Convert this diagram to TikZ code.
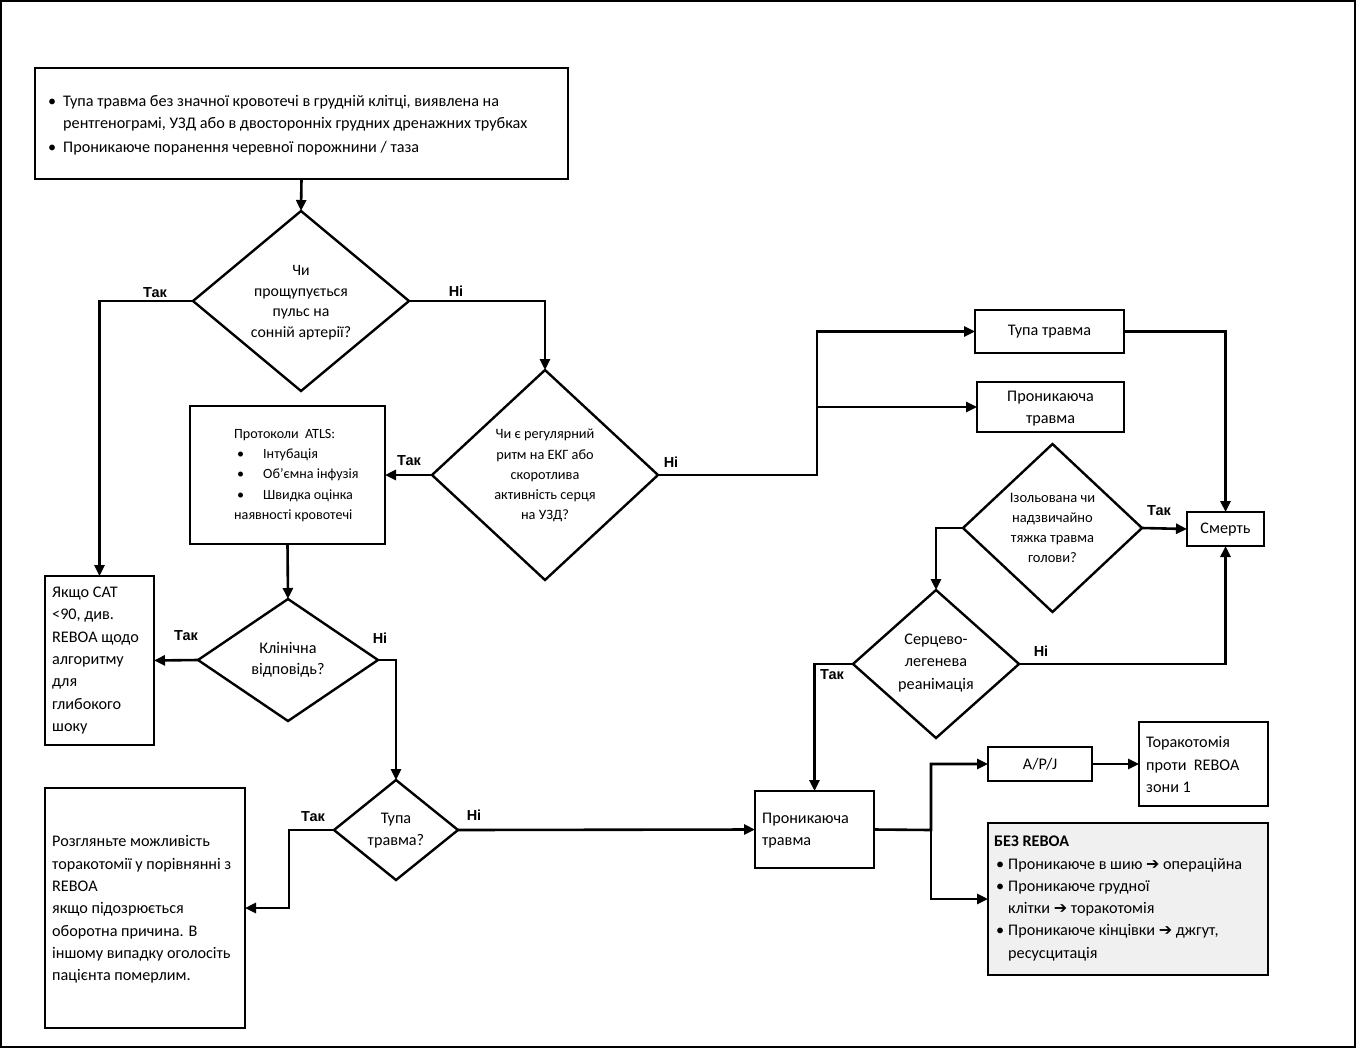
\documentclass[tikz,border=0pt]{standalone}
\usepackage{fontspec}
\setmainfont{Carlito}
\newfontfamily\labfont{Liberation Sans}
\newfontfamily\arrfont{DejaVu Sans}
\usetikzlibrary{shapes.geometric,arrows.meta}
\newcommand{\bigtxt}{\fontsize{16.2}{22.3}\selectfont}
\newcommand{\smtxt}{\fontsize{14.1}{20.2}\selectfont}
\newcommand{\ra}{{\arrfont\fontsize{16}{16}\selectfont ➔}}
\tikzset{
  conn/.style={line width=2.6pt},
  arr/.style={conn,-{Triangle[length=11pt,width=10pt]}},
  box/.style={draw,line width=2.6pt,inner sep=0pt,outer sep=0pt},
  dia/.style={draw,diamond,line width=2.4pt,inner sep=0pt,outer sep=0pt},
  txt/.style={inner sep=0pt,align=left,font=\bigtxt},
  ctxt/.style={inner sep=0pt,align=center,font=\bigtxt},
  lbl/.style={inner sep=0pt,font=\labfont\bfseries\fontsize{14.5}{16}\selectfont},
}
\begin{document}
\begin{tikzpicture}[x=1pt,y=-1pt]
\useasboundingbox (0,0) rectangle (1356,1049);
\draw[line width=1.2pt] (1,1) rectangle (1355,1047);

% boxes
\node[box,minimum width=533pt,minimum height=111pt] (top) at (301.5,123.5) {};
\node[txt,anchor=west] (toptxt) at (48,125) {\makebox[15pt][l]{•}Тупа травма без значної кровотечі в грудній клітці, виявлена на\\
\hspace*{15pt}рентгенограмі, УЗД або в двосторонніх грудних дренажних трубках\\[1pt]
\makebox[15pt][l]{•}Проникаюче поранення черевної порожнини / таза};

\node[box,minimum width=195pt,minimum height=138pt] (atls) at (287.5,475) {};
\node[txt,anchor=west,font=\smtxt] (atlstxt) at (234,475.5) {Протоколи\ \ ATLS:\\
\hspace*{3pt}\makebox[26pt][l]{•}Інтубація\\
\hspace*{3pt}\makebox[26pt][l]{•}Об’ємна інфузія\\
\hspace*{3pt}\makebox[26pt][l]{•}Швидка оцінка\\
наявності кровотечі};

\node[box,minimum width=109pt,minimum height=169pt] (yak) at (99.5,660.5) {};
\node[txt,anchor=west] (yaktxt) at (52,660.5) {Якщо САТ\\ <90, див.\\ REBOA щодо\\ алгоритму\\ для\\ глибокого\\ шоку};

\node[box,minimum width=200pt,minimum height=240pt] (rozg) at (145,908) {};
\node[txt,anchor=west] (rozgtxt) at (52,909.5) {Розгляньте можливість\\ торакотомії у порівнянні з\\ REBOA\\ якщо підозрюється\\ оборотна причина. В\\ іншому випадку оголосіть\\ пацієнта померлим.};

\node[box,minimum width=119pt,minimum height=77pt] (pron2) at (814.5,829.5) {};
\node[txt,anchor=west] (pron2txt) at (762,830.5) {Проникаюча\\ травма};

\node[box,minimum width=104pt,minimum height=34pt] (apj) at (1040,764) {};
\node[ctxt] (apjtxt) at (1040,764.5) {A/P/J};

\node[box,minimum width=129pt,minimum height=84pt] (tor) at (1203.5,764) {};
\node[txt,anchor=west] (tortxt) at (1146,764.5) {Торакотомія\\ проти\ \ REBOA\\ зони 1};

\node[box,fill=black!6,minimum width=280pt,minimum height=152pt] (bez) at (1128,899) {};
\node[txt,anchor=west] (beztxt) at (994,898.5) {\textbf{БЕЗ REBOA}\\
\hspace*{2pt}\makebox[12pt][l]{•}Проникаюче в шию \ra{} операційна\\
\hspace*{2pt}\makebox[12pt][l]{•}Проникаюче грудної\\
\hspace*{14pt}клітки \ra{} торакотомія\\
\hspace*{2pt}\makebox[12pt][l]{•}Проникаюче кінцівки \ra{} джгут,\\
\hspace*{14pt}ресусцитація};

\node[box,minimum width=149pt,minimum height=43pt] (tupa) at (1049.5,331.5) {};
\node[ctxt] (tupatxt) at (1049.5,332) {Тупа травма};

\node[box,minimum width=147pt,minimum height=50pt] (pron1) at (1050.5,407) {};
\node[ctxt] (pron1txt) at (1050.5,408.5) {Проникаюча\\ травма};

\node[box,minimum width=77pt,minimum height=34pt] (smert) at (1225.5,529) {};
\node[ctxt] (smerttxt) at (1225.5,529.5) {Смерть};

% diamonds
\node[dia,minimum width=216pt,minimum height=180pt] (d1) at (301,301) {};
\node[ctxt,font=\fontsize{15.8}{20.5}\selectfont] (d1txt) at (301,302.5) {Чи\\ прощупується\\ пульс на\\ сонній артерії?};

\node[dia,minimum width=226pt,minimum height=210pt] (d2) at (545,475) {};
\node[ctxt,font=\fontsize{14.3}{20.2}\selectfont] (d2txt) at (545,475.5) {Чи є регулярний\\ ритм на ЕКГ або\\ скоротлива\\ активність серця\\ на УЗД?};

\node[dia,minimum width=180pt,minimum height=122pt] (d3) at (288,660) {};
\node[ctxt,font=\fontsize{16.2}{21}\selectfont] (d3txt) at (288,660) {Клінічна\\ відповідь?};

\node[dia,minimum width=124pt,minimum height=100pt] (d4) at (396,830) {};
\node[ctxt,font=\fontsize{16.2}{22}\selectfont] (d4txt) at (396,830.5) {Тупа\\ травма?};

\node[dia,minimum width=179pt,minimum height=168pt] (d5) at (1052.5,528) {};
\node[ctxt,font=\fontsize{14.5}{20}\selectfont] (d5txt) at (1052.5,528) {Ізольована чи\\ надзвичайно\\ тяжка травма\\ голови?};

\node[dia,minimum width=166pt,minimum height=148pt] (d6) at (936,664) {};
\node[ctxt,font=\fontsize{16.2}{22.5}\selectfont] (d6txt) at (936,663) {Серцево-\\ легенева\\ реанімація};

% connectors
\draw[arr] (top.south) -- (d1.north);
\draw[arr] (d1.west) -| (yak.north);
\draw[arr] (d1.east) -| (d2.north);
\draw[arr] (d2.west) -- (atls.east);
\draw[arr] (atls.south) -- (d3.north);
\draw[arr] (d3.west) -- (yak.east);
\draw[arr] (d3.east) -| (d4.north);
\draw[arr] (d4.west) -- ++(-45,0) |- (rozg.east);
\draw[arr] (d4.east) -- (pron2.west);
\coordinate (sp) at (931,830);
\draw[arr] (pron2.east) -- (sp) |- (apj.west);
\draw[arr] (sp) |- (bez.west);
\draw[arr] (apj.east) -- (tor.west);
\coordinate (sp2) at (817,475);
\draw[arr] (d2.east) -- (sp2) |- (tupa.west);
\draw[arr] (sp2 |- pron1.west) -- (pron1.west);
\draw[arr] (tupa.east) -| (smert.north);
\draw[arr] (d5.east) -- (smert.west);
\draw[arr] (d5.west) -| (d6.north);
\draw[arr] (d6.east) -| (smert.south);
\draw[arr] (d6.west) -| (pron2.north);

% labels
\node[lbl] (l1) at (155,293) {Так};
\node[lbl] (l2) at (456,291) {Ні};
\node[lbl] (l3) at (409,461) {Так};
\node[lbl] (l4) at (671,462) {Ні};
\node[lbl] (l5) at (186,636) {Так};
\node[lbl] (l6) at (380,638) {Ні};
\node[lbl] (l7) at (313,817) {Так};
\node[lbl] (l8) at (474,815) {Ні};
\node[lbl] (l9) at (1159,511) {Так};
\node[lbl] (l10) at (1041,651) {Ні};
\node[lbl] (l11) at (832,675) {Так};
\end{tikzpicture}
\end{document}
